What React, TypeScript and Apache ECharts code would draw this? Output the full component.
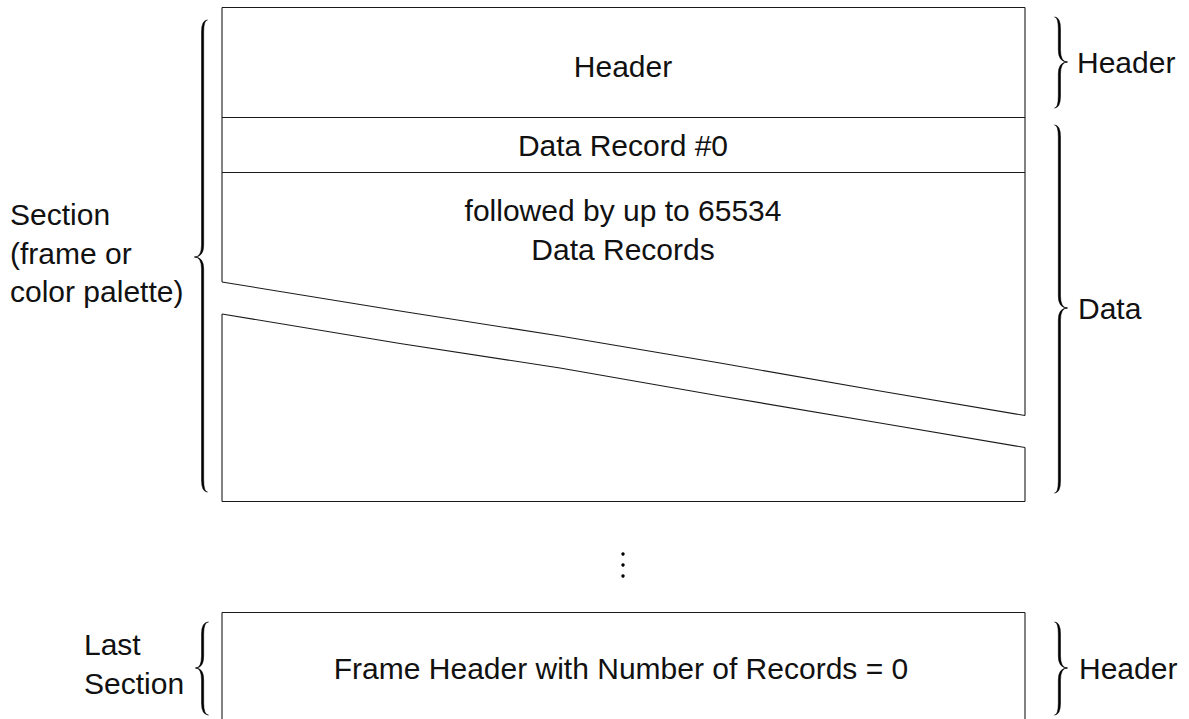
import React, { useEffect, useRef } from "react";
import * as echarts from "echarts";

// ---- content ----
const boxLabels = ["Header", "Data Record #0", "followed by up to 65534\nData Records"];
const lastBoxLabel = "Frame Header with Number of Records = 0";
const leftLabels = ["Section\n(frame or\ncolor palette)", "Last\nSection"];
const rightLabels = ["Header", "Data", "Header"];

const FONT = '"Liberation Sans", Arial, Helvetica, sans-serif';

function bracePath(xs: number, yT: number, yB: number, yM: number, d: number, e: number, t: number, r: number, w: number) {
  const p: string[] = [];
  const ex = xs - d * e;
  const tx = xs + d * t;
  const xi = xs - d * w;
  p.push(`M ${ex} ${yT}`);
  p.push(`Q ${xs} ${yT} ${xs} ${yT + r}`);
  p.push(`L ${xs} ${yM - r}`);
  p.push(`Q ${xs} ${yM} ${tx} ${yM}`);
  p.push(`Q ${xs} ${yM} ${xs} ${yM + r}`);
  p.push(`L ${xs} ${yB - r}`);
  p.push(`Q ${xs} ${yB} ${ex} ${yB}`);
  p.push(`Q ${xi} ${yB} ${xi} ${yB - r}`);
  p.push(`L ${xi} ${yM + r}`);
  p.push(`Q ${xi} ${yM} ${tx} ${yM}`);
  p.push(`Q ${xi} ${yM} ${xi} ${yM - r}`);
  p.push(`L ${xi} ${yT + r}`);
  p.push(`Q ${xi} ${yT} ${ex} ${yT}`);
  p.push("Z");
  return p.join(" ");
}

const braces = [
  { name: "braceSection", d: bracePath(201.5, 20, 492, 257, -1, 6, 7, 12, 2.2) },
  { name: "braceLast", d: bracePath(201.5, 622, 715, 668, -1, 7, 6, 12, 2.2) },
  { name: "braceHeader1", d: bracePath(1060.5, 17, 108, 62, 1, 6, 7, 12, 2.2) },
  { name: "braceData", d: bracePath(1060.5, 125, 493, 308, 1, 6, 7, 12, 2.2) },
  { name: "braceHeader2", d: bracePath(1060.5, 622, 715, 668, 1, 6, 7, 12, 2.2) },
];
braces.forEach((b) => {
  echarts.graphic.registerShape(b.name, echarts.graphic.extendPath(b.d, {}));
});

const L = 222;
const R = 1025;

export default function App() {
  const ref = useRef<HTMLDivElement>(null);
  useEffect(() => {
    document.body.style.margin = "0";
    const chart = echarts.init(ref.current!, null, { renderer: "svg" });
    const ln = (x1: number, y1: number, x2: number, y2: number) => ({
      type: "line",
      shape: { x1, y1, x2, y2 },
      style: { stroke: "#1a1a1a", lineWidth: 1.1 },
      silent: true,
    });
    const txt = (x: number, y: number, text: string, align: string) => ({
      type: "text",
      x,
      y,
      style: {
        text,
        fontSize: 30,
        fontFamily: FONT,
        fill: "#111",
        align,
        verticalAlign: "middle",
        lineHeight: 38.5,
      },
      silent: true,
    });
    const elements: any[] = [
      // main box
      ln(L, 7.5, R, 7.5),
      ln(L, 7.5, L, 282),
      ln(R, 7.5, R, 415.5),
      ln(L, 117.5, R, 117.5),
      ln(L, 172.5, R, 172.5),
      {
        type: "polyline",
        shape: { points: [[L, 282], [400, 311], [560, 336], [720, 363], [880, 391], [R, 415.5]] },
        style: { stroke: "#1a1a1a", lineWidth: 1.1, fill: null },
      },
      {
        type: "polyline",
        shape: { points: [[L, 314], [400, 343.5], [560, 368], [720, 396], [880, 423], [R, 447.5]] },
        style: { stroke: "#1a1a1a", lineWidth: 1.1, fill: null },
      },
      ln(L, 314, L, 501.5),
      ln(R, 447.5, R, 501.5),
      ln(L, 501.5, R, 501.5),
      // last box
      ln(L, 612.5, R, 612.5),
      ln(L, 612.5, L, 730),
      ln(R, 612.5, R, 730),
      // dots
      ...[554, 565, 576].map((cy) => ({
        type: "circle",
        shape: { cx: 623, cy, r: 1.7 },
        style: { fill: "#000" },
      })),
      // braces
      ...braces.map((b) => ({
        type: b.name,
        x: 0,
        y: 0,
        style: { fill: "#000", stroke: "#000", lineWidth: 0.5 },
      })),
      // texts
      txt(623, 66, boxLabels[0], "center"),
      txt(623, 145, boxLabels[1], "center"),
      txt(623, 230, boxLabels[2], "center"),
      txt(621, 668, lastBoxLabel, "center"),
      txt(10, 253, leftLabels[0], "left"),
      txt(84, 664, leftLabels[1], "left"),
      txt(1077, 62, rightLabels[0], "left"),
      txt(1078, 308, rightLabels[1], "left"),
      txt(1079, 668, rightLabels[2], "left"),
    ];
    chart.setOption({ animation: false, graphic: { elements } });
    return () => chart.dispose();
  }, []);
  return <div ref={ref} style={{ width: 1189, height: 719, background: "#fff" }} />;
}
